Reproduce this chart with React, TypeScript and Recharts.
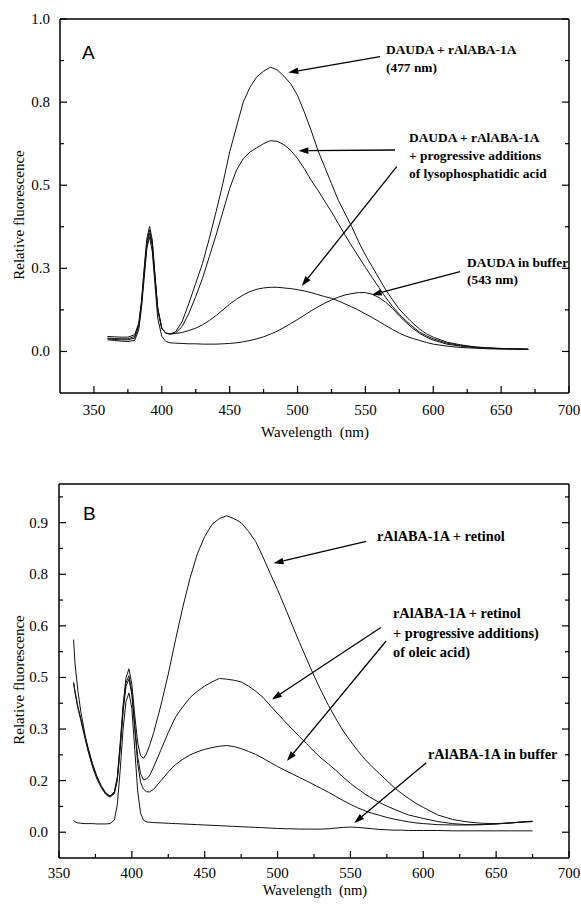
import { LineChart, Line, XAxis, YAxis, ReferenceLine } from 'recharts';

// ---- panel A: DAUDA spectra ----
const A_NM = [
  360, 365, 370, 375, 380, 383, 385, 387, 389, 391, 393, 395, 397, 400, 403, 406,
  410, 415, 420, 425, 430, 435, 440, 445, 450, 455, 460, 465, 470, 475, 480, 485,
  490, 495, 500, 505, 510, 515, 520, 525, 530, 535, 540, 545, 550, 555, 560, 565,
  570, 575, 580, 585, 590, 595, 600, 610, 620, 630, 640, 650, 660, 670,
];
// DAUDA + rAlABA-1A (477 nm)
const A_COMPLEX = [
  0.045, 0.044, 0.043, 0.043, 0.05, 0.085, 0.15, 0.25, 0.34, 0.376, 0.335, 0.23, 0.13, 0.07, 0.055, 0.053,
  0.058, 0.09, 0.145, 0.205, 0.265, 0.34, 0.42, 0.505, 0.6, 0.675, 0.75, 0.795, 0.826, 0.843, 0.855, 0.847,
  0.828, 0.805, 0.77, 0.72, 0.665, 0.605, 0.555, 0.505, 0.455, 0.415, 0.375, 0.33, 0.29, 0.255, 0.22, 0.185,
  0.155, 0.127, 0.105, 0.085, 0.067, 0.053, 0.043, 0.028, 0.02, 0.014, 0.011, 0.009, 0.008, 0.007,
];
// + lysophosphatidic acid, first addition
const A_LPA_LOW = [
  0.04, 0.039, 0.038, 0.038, 0.045, 0.08, 0.145, 0.24, 0.33, 0.365, 0.325, 0.225, 0.13, 0.07, 0.055, 0.052,
  0.055, 0.075, 0.115, 0.165, 0.22, 0.285, 0.35, 0.42, 0.49, 0.545, 0.58, 0.6, 0.613, 0.625, 0.634, 0.632,
  0.622, 0.605, 0.58, 0.55, 0.515, 0.485, 0.452, 0.42, 0.385, 0.35, 0.317, 0.285, 0.253, 0.222, 0.192, 0.162,
  0.135, 0.112, 0.092, 0.074, 0.058, 0.047, 0.038, 0.025, 0.018, 0.013, 0.01, 0.009, 0.008, 0.007,
];
// + lysophosphatidic acid, further additions
const A_LPA_HIGH = [
  0.038, 0.036, 0.035, 0.035, 0.04, 0.075, 0.14, 0.23, 0.32, 0.355, 0.315, 0.22, 0.125, 0.068, 0.055, 0.053,
  0.054, 0.057, 0.063, 0.07, 0.08, 0.093, 0.108, 0.125, 0.142, 0.157, 0.17, 0.18, 0.187, 0.191, 0.193, 0.193,
  0.191, 0.189, 0.186, 0.182, 0.177, 0.171, 0.165, 0.16, 0.152, 0.143, 0.134, 0.124, 0.113, 0.102, 0.09, 0.078,
  0.066, 0.055, 0.046, 0.039, 0.033, 0.027, 0.022, 0.016, 0.012, 0.01, 0.008, 0.007, 0.007, 0.006,
];
// DAUDA in buffer (543 nm)
const A_BUFFER = [
  0.035, 0.033, 0.031, 0.03, 0.033, 0.065, 0.13, 0.22, 0.31, 0.345, 0.3, 0.2, 0.1, 0.045, 0.03, 0.026,
  0.025, 0.024, 0.023, 0.023, 0.022, 0.022, 0.022, 0.023, 0.024, 0.026, 0.029, 0.033, 0.038, 0.044, 0.052, 0.061,
  0.072, 0.084, 0.096, 0.109, 0.122, 0.134, 0.145, 0.155, 0.163, 0.17, 0.174, 0.177, 0.177, 0.172, 0.162, 0.148,
  0.129, 0.107, 0.087, 0.069, 0.054, 0.043, 0.034, 0.022, 0.016, 0.012, 0.01, 0.008, 0.007, 0.006,
];

// ---- panel B: retinol spectra ----
const B_NM = [
  360, 361, 363, 365, 368, 370, 373, 376, 379, 382, 385, 388,
  390, 392, 394, 396, 398, 400, 402, 404, 406, 408, 410, 412,
  415, 420, 425, 430, 435, 440, 445, 450, 455, 460, 465, 470, 475, 480, 485, 490, 495, 500, 505, 510,
  515, 520, 525, 530, 535, 540, 545, 550, 555, 560, 565, 570, 575, 580, 585, 590, 595, 600,
  610, 620, 630, 640, 650, 660, 670, 675,
];
const B_RETINOL = [
  0.56, 0.49, 0.41, 0.35, 0.28, 0.245, 0.2, 0.163, 0.135, 0.115, 0.105, 0.118,
  0.16, 0.26, 0.37, 0.45, 0.475, 0.43, 0.34, 0.26, 0.222, 0.215, 0.228, 0.25,
  0.29, 0.37, 0.46, 0.56, 0.655, 0.74, 0.81, 0.86, 0.895, 0.912, 0.92, 0.912, 0.9, 0.875, 0.845, 0.8, 0.752, 0.705, 0.655, 0.603,
  0.552, 0.503, 0.455, 0.41, 0.368, 0.33, 0.295, 0.265, 0.237, 0.212, 0.19, 0.17, 0.15, 0.13, 0.113, 0.098, 0.084, 0.072,
  0.05, 0.037, 0.03, 0.026, 0.025, 0.027, 0.031, 0.032,
];
const B_OLEIC_LOW = [
  0.435, 0.41, 0.365, 0.33, 0.275, 0.24, 0.195, 0.16, 0.133, 0.113, 0.104, 0.115,
  0.155, 0.25, 0.36, 0.435, 0.455, 0.41, 0.31, 0.22, 0.17, 0.152, 0.155, 0.163,
  0.19, 0.24, 0.29, 0.335, 0.365, 0.392, 0.41, 0.425, 0.437, 0.447, 0.445, 0.442, 0.437, 0.425, 0.41, 0.392, 0.368, 0.345, 0.322, 0.3,
  0.278, 0.257, 0.235, 0.215, 0.198, 0.18, 0.16, 0.142, 0.126, 0.111, 0.098, 0.086, 0.076, 0.067, 0.058, 0.05, 0.045, 0.04,
  0.031, 0.025, 0.022, 0.022, 0.024, 0.027, 0.03, 0.031,
];
const B_OLEIC_HIGH = [
  0.435, 0.405, 0.36, 0.325, 0.27, 0.235, 0.19, 0.155, 0.13, 0.11, 0.102, 0.112,
  0.15, 0.24, 0.35, 0.425, 0.445, 0.4, 0.3, 0.2, 0.145, 0.125, 0.118, 0.117,
  0.125, 0.15, 0.175, 0.197, 0.212, 0.225, 0.234, 0.241, 0.246, 0.25, 0.252, 0.249, 0.243, 0.235, 0.226, 0.215, 0.203, 0.191, 0.18, 0.17,
  0.159, 0.149, 0.138, 0.127, 0.116, 0.104, 0.092, 0.081, 0.071, 0.062, 0.055, 0.049, 0.043, 0.038, 0.034, 0.03, 0.027, 0.025,
  0.022, 0.021, 0.021, 0.022, 0.024, 0.027, 0.03, 0.031,
];
const B_BUFFER = [
  0.035, 0.03, 0.027, 0.026, 0.025, 0.025, 0.025, 0.024, 0.024, 0.024, 0.025, 0.035,
  0.08, 0.18, 0.3, 0.38, 0.405, 0.36, 0.24, 0.12, 0.055, 0.035, 0.03, 0.029,
  0.028, 0.027, 0.026, 0.025, 0.024, 0.023, 0.022, 0.021, 0.02, 0.019, 0.018, 0.017, 0.016, 0.015, 0.014, 0.013, 0.012, 0.011, 0.01, 0.01,
  0.009, 0.009, 0.009, 0.009, 0.01, 0.012, 0.014, 0.015, 0.014, 0.012, 0.01, 0.008, 0.007, 0.006, 0.006, 0.005, 0.005, 0.005,
  0.005, 0.004, 0.004, 0.004, 0.004, 0.004, 0.004, 0.004,
];

// ticks (empty label = minor tick)
const X_TICKS = [350, 375, 400, 425, 450, 475, 500, 525, 550, 575, 600, 625, 650, 675, 700];
const X_LABELS = ['350', '', '400', '', '450', '', '500', '', '550', '', '600', '', '650', '', '700'];
const A_Y_TICKS = [0, 0.125, 0.25, 0.375, 0.5, 0.625, 0.75, 0.875, 1.0];
const A_Y_LABELS = ['0.0', '', '0.3', '', '0.5', '', '0.8', '', '1.0'];
const B_Y_TICKS = [0, 0.075, 0.15, 0.225, 0.3, 0.375, 0.45, 0.525, 0.6, 0.675, 0.75, 0.825, 0.9, 0.975];
const B_Y_LABELS = ['0.0', '', '0.2', '', '0.3', '', '0.5', '', '0.6', '', '0.8', '', '0.9', ''];

// annotation arrows: [tail nm, tail value, tip nm, tip value]
const A_ARROWS = [
  [560.8, 0.887, 493.2, 0.839],
  [571.8, 0.606, 500.6, 0.604],
  [573.1, 0.556, 503.1, 0.197],
  [619.7, 0.24, 554.6, 0.17],
];
const B_ARROWS = [
  [560.8, 0.846, 497.2, 0.782],
  [570.9, 0.595, 496.1, 0.386],
  [574.5, 0.556, 506.4, 0.207],
  [602, 0.202, 552.6, 0.027],
];

const SERIF = 'Liberation Serif';
const SANS = 'Liberation Sans';
const frame = { stroke: '#000', strokeWidth: 1.5 };

function makeTick(side: 'bottom' | 'top' | 'left' | 'right', ticks: number[], labels: string[], labelGap: number) {
  return (props: any) => {
    const { x, y, payload } = props;
    const i = ticks.indexOf(payload.value);
    const label = i >= 0 ? labels[i] : '';
    const len = label ? 7 : 4;
    if (side === 'bottom') {
      return (
        <g>
          <line x1={x} y1={y} x2={x} y2={y - len} stroke="#000" strokeWidth={1.2} />
          {label && (
            <text x={x} y={y + labelGap} textAnchor="middle" style={{ fontFamily: SERIF, fontSize: 15 }} fill="#000">
              {label}
            </text>
          )}
        </g>
      );
    }
    if (side === 'top') return <line x1={x} y1={y} x2={x} y2={y + len} stroke="#000" strokeWidth={1.2} />;
    if (side === 'right') return <line x1={x} y1={y} x2={x - len} y2={y} stroke="#000" strokeWidth={1.2} />;
    return (
      <g>
        <line x1={x} y1={y} x2={x + len} y2={y} stroke="#000" strokeWidth={1.2} />
        {label && (
          <text x={x - labelGap} y={y + 5} textAnchor="end" style={{ fontFamily: SERIF, fontSize: 15 }} fill="#000">
            {label}
          </text>
        )}
      </g>
    );
  };
}

function Arrow(props: any) {
  const { x1, y1, x2, y2 } = props;
  const dx = x2 - x1;
  const dy = y2 - y1;
  const len = Math.hypot(dx, dy) || 1;
  const ux = dx / len;
  const uy = dy / len;
  const hl = 10;
  const hw = 3.3;
  const bx = x2 - ux * hl;
  const by = y2 - uy * hl;
  return (
    <g>
      <line x1={x1} y1={y1} x2={bx} y2={by} stroke="#000" strokeWidth={1.3} />
      <polygon
        points={`${x2},${y2} ${bx - uy * hw},${by + ux * hw} ${bx + uy * hw},${by - ux * hw}`}
        fill="#000"
      />
    </g>
  );
}

const rowsA = A_NM.map((nm, i) => ({
  nm,
  complex: A_COMPLEX[i],
  lpaLow: A_LPA_LOW[i],
  lpaHigh: A_LPA_HIGH[i],
  buffer: A_BUFFER[i],
}));

const rowsB = B_NM.map((nm, i) => ({
  nm,
  retinol: B_RETINOL[i],
  oleicLow: B_OLEIC_LOW[i],
  oleicHigh: B_OLEIC_HIGH[i],
  buffer: B_BUFFER[i],
}));

interface PanelProps {
  rows: any[];
  keys: string[];
  height: number;
  top: number;
  xDomain: [number, number];
  yDomain: [number, number];
  yTicks: number[];
  yLabels: string[];
  yAxisWidth: number;
  xAxisHeight: number;
  xLabelGap: number;
  yLabelGap: number;
  arrows: number[][];
}

function Panel({ rows, keys, height, top, xDomain, yDomain, yTicks, yLabels, yAxisWidth, xAxisHeight, xLabelGap, yLabelGap, arrows }: PanelProps) {
  return (
    <LineChart width={581} height={height} data={rows} margin={{ top, right: 11, bottom: 0, left: 0 }}>
      <XAxis
        dataKey="nm"
        type="number"
        domain={xDomain}
        allowDataOverflow
        ticks={X_TICKS}
        interval={0}
        tickSize={0}
        tickMargin={0}
        tickLine={false}
        axisLine={frame}
        height={xAxisHeight}
        tick={makeTick('bottom', X_TICKS, X_LABELS, xLabelGap)}
      />
      <XAxis
        xAxisId="top"
        orientation="top"
        type="number"
        domain={xDomain}
        allowDataOverflow
        ticks={X_TICKS}
        interval={0}
        tickSize={0}
        tickMargin={0}
        tickLine={false}
        axisLine={frame}
        height={1}
        tick={makeTick('top', X_TICKS, X_LABELS, 0)}
      />
      <YAxis
        type="number"
        domain={yDomain}
        allowDataOverflow
        ticks={yTicks}
        interval={0}
        tickSize={0}
        tickMargin={0}
        tickLine={false}
        axisLine={frame}
        width={yAxisWidth}
        tick={makeTick('left', yTicks, yLabels, yLabelGap)}
      />
      <YAxis
        yAxisId="right"
        orientation="right"
        type="number"
        domain={yDomain}
        allowDataOverflow
        ticks={yTicks}
        interval={0}
        tickSize={0}
        tickMargin={0}
        tickLine={false}
        axisLine={frame}
        width={1}
        tick={makeTick('right', yTicks, yLabels, 0)}
      />
      {keys.map((k) => (
        <Line
          key={k}
          dataKey={k}
          type="linear"
          stroke="#111"
          strokeWidth={1}
          dot={false}
          activeDot={false}
          isAnimationActive={false}
        />
      ))}
      {arrows.map((a, i) => (
        <ReferenceLine
          key={`arrow-${i}`}
          segment={[{ x: a[0], y: a[1] }, { x: a[2], y: a[3] }]}
          shape={Arrow}
        />
      ))}
    </LineChart>
  );
}

const serif = { fontFamily: SERIF, fontSize: 15 } as const;
const noteA = { fontFamily: SERIF, fontWeight: 700, fontSize: 13.4 } as const;
const noteB = { fontFamily: SERIF, fontWeight: 700, fontSize: 14.3 } as const;

export default function App() {
  return (
    <div style={{ position: 'absolute', left: 0, top: 0, width: 581, height: 909, background: '#fff' }}>
      <div style={{ position: 'absolute', left: 0, top: 0 }}>
        <Panel
          rows={rowsA}
          keys={['complex', 'lpaLow', 'lpaHigh', 'buffer']}
          height={440}
          top={18}
          xDomain={[325, 700]}
          yDomain={[-0.125, 1]}
          yTicks={A_Y_TICKS}
          yLabels={A_Y_LABELS}
          yAxisWidth={60}
          xAxisHeight={47}
          xLabelGap={22}
          yLabelGap={10}
          arrows={A_ARROWS}
        />
      </div>
      <div style={{ position: 'absolute', left: 0, top: 440 }}>
        <Panel
          rows={rowsB}
          keys={['retinol', 'oleicLow', 'oleicHigh', 'buffer']}
          height={469}
          top={43}
          xDomain={[350, 700]}
          yDomain={[-0.075, 1.0125]}
          yTicks={B_Y_TICKS}
          yLabels={B_Y_LABELS}
          yAxisWidth={59}
          xAxisHeight={51}
          xLabelGap={20}
          yLabelGap={11}
          arrows={B_ARROWS}
        />
      </div>
      <svg width={581} height={909} style={{ position: 'absolute', left: 0, top: 0, pointerEvents: 'none' }}>
        {/* panel A */}
        <text x={82} y={59} style={{ fontFamily: SANS, fontSize: 19 }}>A</text>
        <text style={noteA}>
          <tspan x={386} y={54}>DAUDA + rAlABA-1A</tspan>
          <tspan x={386} y={72}>(477 nm)</tspan>
        </text>
        <text style={noteA}>
          <tspan x={409} y={142}>DAUDA + rAlABA-1A</tspan>
          <tspan x={409} y={160}>+ progressive additions</tspan>
          <tspan x={409} y={178}>of lysophosphatidic acid</tspan>
        </text>
        <text style={noteA}>
          <tspan x={467} y={267}>DAUDA in buffer</tspan>
          <tspan x={467} y={284}>(543 nm)</tspan>
        </text>
        <text x={24} y={215} transform="rotate(-90 24 215)" textAnchor="middle" style={serif}>
          Relative fluorescence
        </text>
        <text x={315} y={437} textAnchor="middle" style={serif}>
          {'Wavelength\u00a0\u00a0(nm)'}
        </text>
        {/* panel B */}
        <text x={83} y={520} style={{ fontFamily: SANS, fontSize: 19 }}>B</text>
        <text style={noteB}>
          <tspan x={377} y={541}>rAlABA-1A + retinol</tspan>
        </text>
        <text style={noteB}>
          <tspan x={393} y={618}>rAlABA-1A + retinol</tspan>
          <tspan x={393} y={638}>+ progressive additions)</tspan>
          <tspan x={393} y={657}>of oleic acid)</tspan>
        </text>
        <text style={noteB}>
          <tspan x={428} y={759}>rAlABA-1A in buffer</tspan>
        </text>
        <text x={24} y={680} transform="rotate(-90 24 680)" textAnchor="middle" style={serif}>
          Relative fluorescence
        </text>
        <text x={315} y={895} textAnchor="middle" style={{ fontFamily: SERIF, fontSize: 14.5 }}>
          {'Wavelength\u00a0\u00a0(nm)'}
        </text>
      </svg>
    </div>
  );
}
